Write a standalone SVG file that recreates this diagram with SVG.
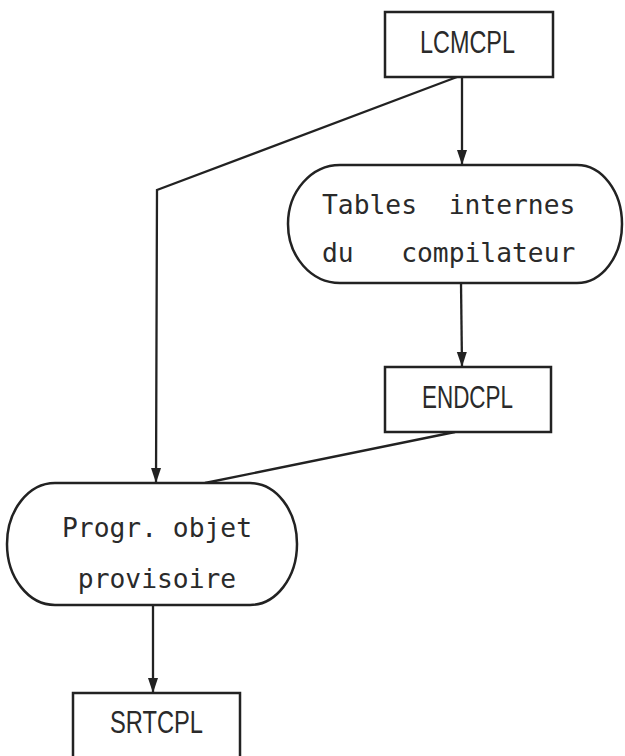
<svg xmlns="http://www.w3.org/2000/svg" width="625" height="756" viewBox="0 0 625 756">
  <style>
    .shape { fill: #ffffff; stroke: #222222; stroke-width: 2.5; }
    .conn { fill: none; stroke: #222222; stroke-width: 2.3; }
    .mono { font-family: "DejaVu Sans Mono", "Liberation Mono", monospace; font-size: 26.3px; fill: #2a2a2a; }
    .caps { font-family: "Liberation Sans", Arial, sans-serif; font-size: 32px; fill: #2a2a2a; text-anchor: middle; }
  </style>
  <defs>
    <marker id="arrow" markerUnits="userSpaceOnUse" markerWidth="16" markerHeight="12" viewBox="0 0 16 12" refX="15" refY="6" orient="auto">
      <path d="M0,1 L15,6 L0,11 Z" fill="#222222"/>
    </marker>
  </defs>
  <rect width="625" height="756" fill="#ffffff"/>

  <g id="connectors">
    <line class="conn" x1="462" y1="77" x2="462" y2="165" marker-end="url(#arrow)"/>
    <polyline class="conn" points="457,77 157,190 156,483" marker-end="url(#arrow)"/>
    <line class="conn" x1="461" y1="283" x2="462" y2="367" marker-end="url(#arrow)"/>
    <line class="conn" x1="455" y1="432" x2="205" y2="483"/>
    <line class="conn" x1="153" y1="605" x2="153" y2="693" marker-end="url(#arrow)"/>
  </g>

  <g id="lcmcpl">
    <rect class="shape" x="385" y="12" width="168" height="65"/>
    <text class="caps" x="467.5" y="53" textLength="95" lengthAdjust="spacingAndGlyphs">LCMCPL</text>
  </g>

  <g id="tables">
    <path class="shape" d="M340,165 H577 A45 59 0 0 1 577,283 H340 A52 59 0 0 1 340,165 Z"/>
    <text class="mono" x="322" y="214" xml:space="preserve">Tables  internes</text>
    <text class="mono" x="322" y="262" xml:space="preserve">du   compilateur</text>
  </g>

  <g id="endcpl">
    <rect class="shape" x="385" y="367" width="166" height="65"/>
    <text class="caps" x="467.5" y="408" textLength="91" lengthAdjust="spacingAndGlyphs">ENDCPL</text>
  </g>

  <g id="progr">
    <path class="shape" d="M55,483 H250 A47 61 0 0 1 250,605 H55 A48 61 0 0 1 55,483 Z"/>
    <text class="mono" x="157" y="537" text-anchor="middle">Progr. objet</text>
    <text class="mono" x="157" y="588" text-anchor="middle">provisoire</text>
  </g>

  <g id="srtcpl">
    <rect class="shape" x="73" y="693" width="167" height="80"/>
    <text class="caps" x="156.5" y="733" textLength="93" lengthAdjust="spacingAndGlyphs">SRTCPL</text>
  </g>
</svg>
